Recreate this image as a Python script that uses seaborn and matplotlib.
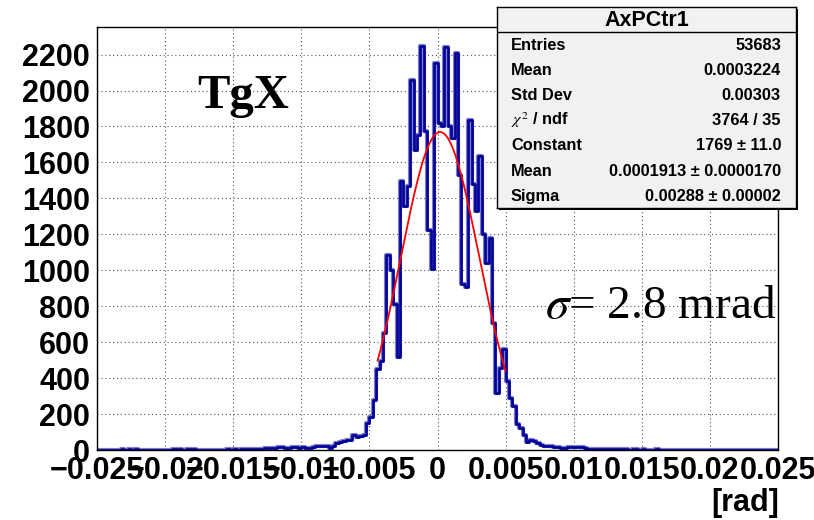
import numpy as np
import pandas as pd
import matplotlib
matplotlib.use("Agg")
import matplotlib.pyplot as plt
import matplotlib.patches as mpatches
import matplotlib.patheffects as pe
from matplotlib.ticker import FixedLocator, MultipleLocator
import seaborn as sns

# histogram binning (ROOT TH1: 200 bins over [-0.025, 0.025])
x_lo, x_hi, n_bins = -0.025, 0.025, 200

# bin contents, left to right
left_tail = [0, 1, 0, 1, 0, 0, 1,
             3, 2, 3, 2, 3, 2,
             1, 0, 2, 1, 0, 1, 0, 1, 0,
             3, 4, 3, 2, 4, 3, 3,
             1, 2, 1, 0, 2, 1,
             2, 1, 2, 3, 2, 3, 2, 3, 4, 3,
             6, 7, 6, 8,
             9, 10, 11, 10,
             17, 15, 9, 12,
             14, 15, 13, 14, 10, 9, 18,
             20, 24, 22, 23, 12, 22, 40,
             45, 50, 55, 57, 82, 72, 76, 85]
core = [152, 184, 279, 453, 494, 650, 1086, 1000, 810, 520,
        1495, 1356, 1470, 2061, 1671, 1750, 2247, 1773, 1226, 1007,
        2154, 1820, 1801, 2243, 1801, 1736, 2206, 1532, 925, 906,
        1835, 1482, 1328, 1638, 1203, 1040, 1179, 706,
        319, 455, 563, 385, 292]
right_tail = [245, 145, 124, 85, 42, 56, 50, 41, 30, 23, 22, 22, 15, 14, 13,
              12, 16, 17, 18, 16, 14, 10,
              7, 6, 6, 5, 6, 5, 4, 4, 3, 3, 4, 3, 2, 3, 3, 2, 3,
              2, 1, 2, 3, 1, 2, 1, 1, 2, 1,
              0, 1, 2, 1, 1, 0, 2, 1, 0, 1,
              1, 2, 0, 1, 0, 1, 2, 1, 0, 0,
              1, 0, 1, 2, 0, 1, 0, 1, 0]

# gaussian fit parameters (from the stats box)
fit_constant = 1769.0
fit_mean = 0.0001913
fit_sigma = 0.00288
fit_lo, fit_hi = -0.0044, 0.0050

x_ticks = [-0.025, -0.02, -0.015, -0.01, -0.005, 0, 0.005, 0.01, 0.015, 0.02, 0.025]
x_tick_labels = ['\u22120.025', '\u22120.02', '\u22120.015', '\u22120.01', '\u22120.005', '0',
                 '0.005', '0.01', '0.015', '0.02', '0.025']
y_ticks = list(range(0, 2201, 200))

stat_title = 'AxPCtr1'
stat_labels = ['Entries', 'Mean', 'Std Dev', r'$\chi^2$ / ndf', 'Constant', 'Mean', 'Sigma']
stat_values = ['53683', '0.0003224', '0.00303', '3764 / 35',
               '1769 \u00b1 11.0', '0.0001913 \u00b1 0.0000170', '0.00288 \u00b1 0.00002']

counts = np.array(left_tail + core + right_tail, dtype=float)
edges = np.linspace(x_lo, x_hi, n_bins + 1)
centers = 0.5 * (edges[:-1] + edges[1:])
df_hist = pd.DataFrame({'x': centers, 'w': counts})

sns.set_style('white')
plt.rcParams['font.family'] = ['Liberation Sans', 'DejaVu Sans']
plt.rcParams['mathtext.fontset'] = 'stix'
plt.rcParams['text.color'] = 'black'
plt.rcParams['xtick.color'] = 'black'
plt.rcParams['ytick.color'] = 'black'
plt.rcParams['axes.labelcolor'] = 'black'

W, H = 814, 520
fig = plt.figure(figsize=(W / 100, H / 100), dpi=100)
fig.patch.set_facecolor('white')

# axes frame in pixel terms: x 97..778, y 26.7..450
ax = fig.add_axes([97 / W, (H - 450) / H, 681 / W, 423.3 / H])

navy = '#000099'
sns.histplot(
    data=df_hist, x='x', weights='w', bins=n_bins, binrange=(x_lo, x_hi),
    element='step', fill=False, color=navy, linewidth=1.9, ax=ax,
    path_effects=[pe.Stroke(linewidth=3.0, foreground='#7d7dc8'), pe.Normal()],
)

fit_x = np.linspace(fit_lo, fit_hi, 300)
fit_y = fit_constant * np.exp(-0.5 * ((fit_x - fit_mean) / fit_sigma) ** 2)
sns.lineplot(x=fit_x, y=fit_y, color='red', linewidth=1.3, sort=False, ax=ax)

ax.set_xlim(x_lo, x_hi)
ax.set_ylim(0, 2355)
ax.set_xlabel('')
ax.set_ylabel('')

ax.xaxis.set_major_locator(FixedLocator(x_ticks))
ax.set_xticklabels(x_tick_labels)
ax.xaxis.set_minor_locator(MultipleLocator(0.001))
ax.yaxis.set_major_locator(FixedLocator(y_ticks))
ax.set_yticklabels([str(v) for v in y_ticks])
ax.yaxis.set_minor_locator(MultipleLocator(50))

ax.tick_params(axis='both', which='both', direction='in', colors='black')
ax.tick_params(axis='y', which='major', length=13, width=1, pad=5, labelsize=22)
ax.tick_params(axis='y', which='minor', length=6.5, width=1)
ax.tick_params(axis='x', which='major', length=10, width=1, pad=4, labelsize=22)
ax.tick_params(axis='x', which='minor', length=5.5, width=1)
for lab in ax.get_xticklabels() + ax.get_yticklabels():
    lab.set_fontweight('bold')
    lab.set_color('black')

ax.grid(True, which='major', color='#555555', linewidth=0.8, linestyle=(0, (1, 2.5)))
ax.set_axisbelow(True)
for sp in ax.spines.values():
    sp.set_color('black')
    sp.set_linewidth(1.0)

fig.text(779 / W, (H - 503) / H, '[rad]', ha='right', va='center',
         fontsize=22, fontweight='bold', color='black')
fig.text(197 / W, (H - 108) / H, 'TgX', ha='left', va='baseline', color='black',
         fontsize=35, fontweight='bold', family=['Liberation Serif', 'DejaVu Serif'])
fig.text(545 / W, (H - 318) / H, r'$\sigma$= 2.8 mrad', ha='left', va='baseline',
         color='black', fontsize=34, family=['Liberation Serif', 'DejaVu Serif'])

# stats box (pixel coordinates inside)
bx0, bx1, by0, by1 = 497, 796, 7, 208
box_rect = [bx0 / W, (H - by1) / H, (bx1 - bx0) / W, (by1 - by0) / H]
shadow = mpatches.Rectangle((box_rect[0] + 2 / W, box_rect[1] - 2 / H), box_rect[2], box_rect[3],
                            transform=fig.transFigure, facecolor='black', edgecolor='none',
                            zorder=3)
fig.patches.append(shadow)
ax_box = fig.add_axes(box_rect)
ax_box.set_zorder(4)
ax_box.set_facecolor('#f1f1f1')
ax_box.set_xlim(bx0, bx1)
ax_box.set_ylim(by1, by0)
ax_box.set_xticks([])
ax_box.set_yticks([])
for sp in ax_box.spines.values():
    sp.set_color('black')
    sp.set_linewidth(1.0)
ax_box.axhline(32, color='black', linewidth=1.0)
ax_box.text((bx0 + bx1) / 2, 20.5, stat_title, ha='center', va='center',
            fontsize=15.5, fontweight='bold', color='black')
for i, (lab, val) in enumerate(zip(stat_labels, stat_values)):
    yy = 45 + 25.2 * i
    ax_box.text(511, yy, lab, ha='left', va='center', fontsize=11.8,
                fontweight='bold', color='black')
    ax_box.text(781, yy, val, ha='right', va='center', fontsize=11.8,
                fontweight='bold', color='black')

fig.savefig('out.png', dpi=100)
